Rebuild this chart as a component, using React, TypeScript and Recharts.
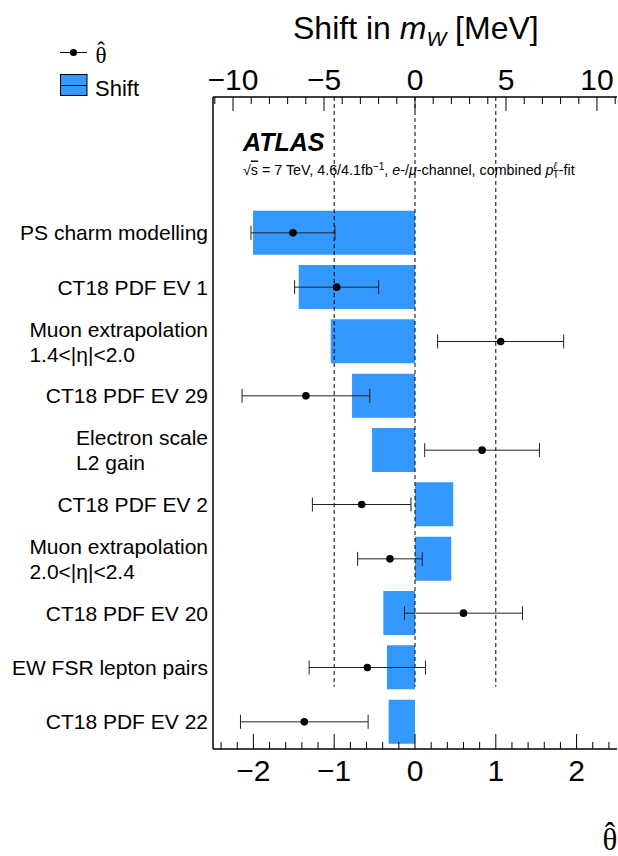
import { ComposedChart, Bar, Scatter, ErrorBar, XAxis, YAxis, ReferenceLine } from 'recharts';

// nuisance parameters, top row first
const CATEGORIES = [
  'PS charm modelling',
  'CT18 PDF EV 1',
  'Muon extrapolation\n1.4<|η|<2.0',
  'CT18 PDF EV 29',
  'Electron scale\nL2 gain',
  'CT18 PDF EV 2',
  'Muon extrapolation\n2.0<|η|<2.4',
  'CT18 PDF EV 20',
  'EW FSR lepton pairs',
  'CT18 PDF EV 22',
];
const SHIFT_MEV = [-8.9, -6.39, -4.63, -3.46, -2.36, 2.1, 1.99, -1.74, -1.54, -1.45];
const THETA = [-1.51, -0.97, 1.06, -1.35, 0.83, -0.66, -0.31, 0.6, -0.59, -1.37];
const THETA_ERR = [0.52, 0.52, 0.78, 0.79, 0.71, 0.61, 0.4, 0.73, 0.72, 0.79];

// two empty slots above the rows leave room for the ATLAS label
const SPACERS = ['__pad1', '__pad2'];

const TOP_TICKS = [-11, -10, -9, -8, -7, -6, -5, -4, -3, -2, -1, 0, 1, 2, 3, 4, 5, 6, 7, 8, 9, 10, 11];
const TOP_MAJOR = [-10, -5, 0, 5, 10];
const BOTTOM_TICKS = [
  -2.4, -2.2, -2, -1.8, -1.6, -1.4, -1.2, -1, -0.8, -0.6, -0.4, -0.2, 0,
  0.2, 0.4, 0.6, 0.8, 1, 1.2, 1.4, 1.6, 1.8, 2, 2.2, 2.4,
];
const BOTTOM_MAJOR = [-2, -1, 0, 1, 2];
const GUIDES = [-1, 0, 1];

const FONT = '"Liberation Sans", Arial, Helvetica, sans-serif';
const SERIF = '"Liberation Serif", "DejaVu Serif", "Times New Roman", serif';
const BLUE = '#3399ff';

const data = [
  ...SPACERS.map((name) => ({ name, shift: null, theta: null, err: null })),
  ...CATEGORIES.map((name, i) => ({ name, shift: SHIFT_MEV[i], theta: THETA[i], err: THETA_ERR[i] })),
];

const fmt = (v: number) => (v < 0 ? '\u2212' + Math.abs(v) : String(v));
const isMajor = (v: number, list: number[]) => list.some((m) => Math.abs(m - v) < 1e-6);

function TopTick({ x, y, payload }: any) {
  const major = isMajor(payload.value, TOP_MAJOR);
  return (
    <g>
      <line x1={x} x2={x} y1={y} y2={y + (major ? 14 : 7)} stroke="#000" strokeWidth={1} />
      {major && (
        <text x={x} y={y - 7} textAnchor="middle" fontSize={30} fontFamily={FONT} fill="#000">
          {fmt(payload.value)}
        </text>
      )}
    </g>
  );
}

function BottomTick({ x, y, payload }: any) {
  const major = isMajor(payload.value, BOTTOM_MAJOR);
  return (
    <g>
      <line x1={x} x2={x} y1={y} y2={y - (major ? 15 : 7)} stroke="#000" strokeWidth={1} />
      {major && (
        <text x={x} y={y + 32} textAnchor="middle" fontSize={30} fontFamily={FONT} fill="#000">
          {fmt(Math.round(payload.value))}
        </text>
      )}
    </g>
  );
}

function CategoryTick({ x, y, payload }: any) {
  const name = String(payload.value);
  if (name.startsWith('__')) return <g />;
  const lines = name.split('\n');
  return (
    <foreignObject x={0} y={y - 30} width={x - 5} height={60}>
      <div
        style={{
          height: 60,
          display: 'flex',
          flexDirection: 'column',
          justifyContent: 'center',
          alignItems: 'flex-end',
          fontFamily: FONT,
          fontSize: 21,
          lineHeight: '25px',
          color: '#000',
        }}
      >
        <div style={{ textAlign: 'left', whiteSpace: 'nowrap' }}>
          {lines.map((l, i) => (
            <div key={i}>{l}</div>
          ))}
        </div>
      </div>
    </foreignObject>
  );
}

// theta with a hat: one text, hat placed as its own centred chunk above the theta
function ThetaHat({ x, y, size }: { x: number; y: number; size: number }) {
  return (
    <text textAnchor="middle" fontSize={size} fontFamily={SERIF} fill="#000">
      <tspan x={x} y={y}>θ</tspan>
      <tspan x={x} y={y - size * 0.2}>ˆ</tspan>
    </text>
  );
}

const frame = { stroke: '#000', strokeWidth: 1.5 };

export default function App() {
  return (
    <div style={{ position: 'absolute', left: 0, top: 0, width: 618, height: 856, background: '#fff', fontFamily: FONT }}>
      <ComposedChart
        width={618}
        height={856}
        data={data}
        layout="vertical"
        margin={{ top: 37, right: 1, bottom: 47, left: 0 }}
      >
        <XAxis
          xAxisId="top"
          orientation="top"
          type="number"
          domain={[-11.1, 11.1]}
          allowDataOverflow
          ticks={TOP_TICKS}
          interval={0}
          height={60}
          tickSize={0}
          tickMargin={0}
          tickLine={false}
          tick={(p: any) => <TopTick {...p} />}
          axisLine={frame}
        />
        <XAxis
          xAxisId="bottom"
          orientation="bottom"
          type="number"
          domain={[-2.5, 2.5]}
          allowDataOverflow
          ticks={BOTTOM_TICKS}
          interval={0}
          height={60}
          tickSize={0}
          tickMargin={0}
          tickLine={false}
          tick={(p: any) => <BottomTick {...p} />}
          axisLine={frame}
        />
        <YAxis
          yAxisId="cat"
          type="category"
          dataKey="name"
          width={213}
          interval={0}
          tickSize={0}
          tickMargin={0}
          tickLine={false}
          tick={(p: any) => <CategoryTick {...p} />}
          axisLine={frame}
        />
        <YAxis
          yAxisId="num"
          orientation="right"
          type="number"
          domain={[0, 12]}
          allowDataOverflow
          width={0}
          tick={false}
          tickLine={false}
          axisLine={frame}
        />
        <Bar xAxisId="top" yAxisId="cat" dataKey="shift" fill={BLUE} barSize={44} isAnimationActive={false} />
        {GUIDES.map((g) => (
          <ReferenceLine
            key={g}
            xAxisId="bottom"
            yAxisId="num"
            segment={[{ x: g, y: 0 }, { x: g, y: 9.95 }]}
            stroke="#000"
            strokeWidth={1}
            strokeDasharray="4 3"
          />
        ))}
        <Scatter
          xAxisId="bottom"
          yAxisId="cat"
          dataKey="theta"
          isAnimationActive={false}
          shape={(p: any) =>
            Number.isFinite(p.cx) && Number.isFinite(p.cy) ? <circle cx={p.cx} cy={p.cy} r={3.8} fill="#000" /> : <g />
          }
        >
          <ErrorBar dataKey="err" direction="x" width={7} stroke="#222" strokeWidth={1} />
        </Scatter>

        {/* title of the top axis */}
        <text x={293} y={39} fontSize={32} fontFamily={FONT} fill="#000">
          <tspan>Shift in </tspan>
          <tspan fontStyle="italic">m</tspan>
          <tspan fontStyle="italic" fontSize={21} dy={7}>W</tspan>
          <tspan dy={-7}> [MeV]</tspan>
        </text>

        {/* legend */}
        <line x1={60} x2={87} y1={52.5} y2={52.5} stroke="#000" strokeWidth={1} />
        <circle cx={73.5} cy={52.5} r={3.6} fill="#000" />
        <ThetaHat x={101} y={62.5} size={23} />
        <rect x={60.5} y={74.5} width={26.5} height={21} fill={BLUE} stroke="#000" strokeWidth={1} />
        <line x1={60.5} x2={87} y1={85.5} y2={85.5} stroke="#000" strokeWidth={1} />
        <text x={95} y={95.5} fontSize={22} fontFamily={FONT} fill="#000">Shift</text>

        {/* ATLAS label */}
        <text x={243} y={150.5} fontSize={25} fontWeight="bold" fontStyle="italic" fontFamily={FONT} fill="#000">
          ATLAS
        </text>
        <text x={243} y={174.5} fontSize={14.3} fontFamily={FONT} fill="#000">
          <tspan>√</tspan>
          <tspan textDecoration="overline">s</tspan>
          <tspan> = 7 TeV, 4.6/4.1fb</tspan>
          <tspan fontSize={10} dy={-5}>−1</tspan>
          <tspan dy={5}>, </tspan>
          <tspan fontStyle="italic">e</tspan>
          <tspan>-/</tspan>
          <tspan fontStyle="italic">μ</tspan>
          <tspan>-channel, combined </tspan>
          <tspan fontStyle="italic">p</tspan>
          <tspan fontSize={10} fontStyle="italic" dy={-6}>ℓ</tspan>
          <tspan fontSize={10} dx={-4} dy={9}>T</tspan>
          <tspan dy={-3}>-fit</tspan>
        </text>

        {/* title of the bottom axis */}
        <ThetaHat x={610} y={850} size={31} />
      </ComposedChart>
    </div>
  );
}
